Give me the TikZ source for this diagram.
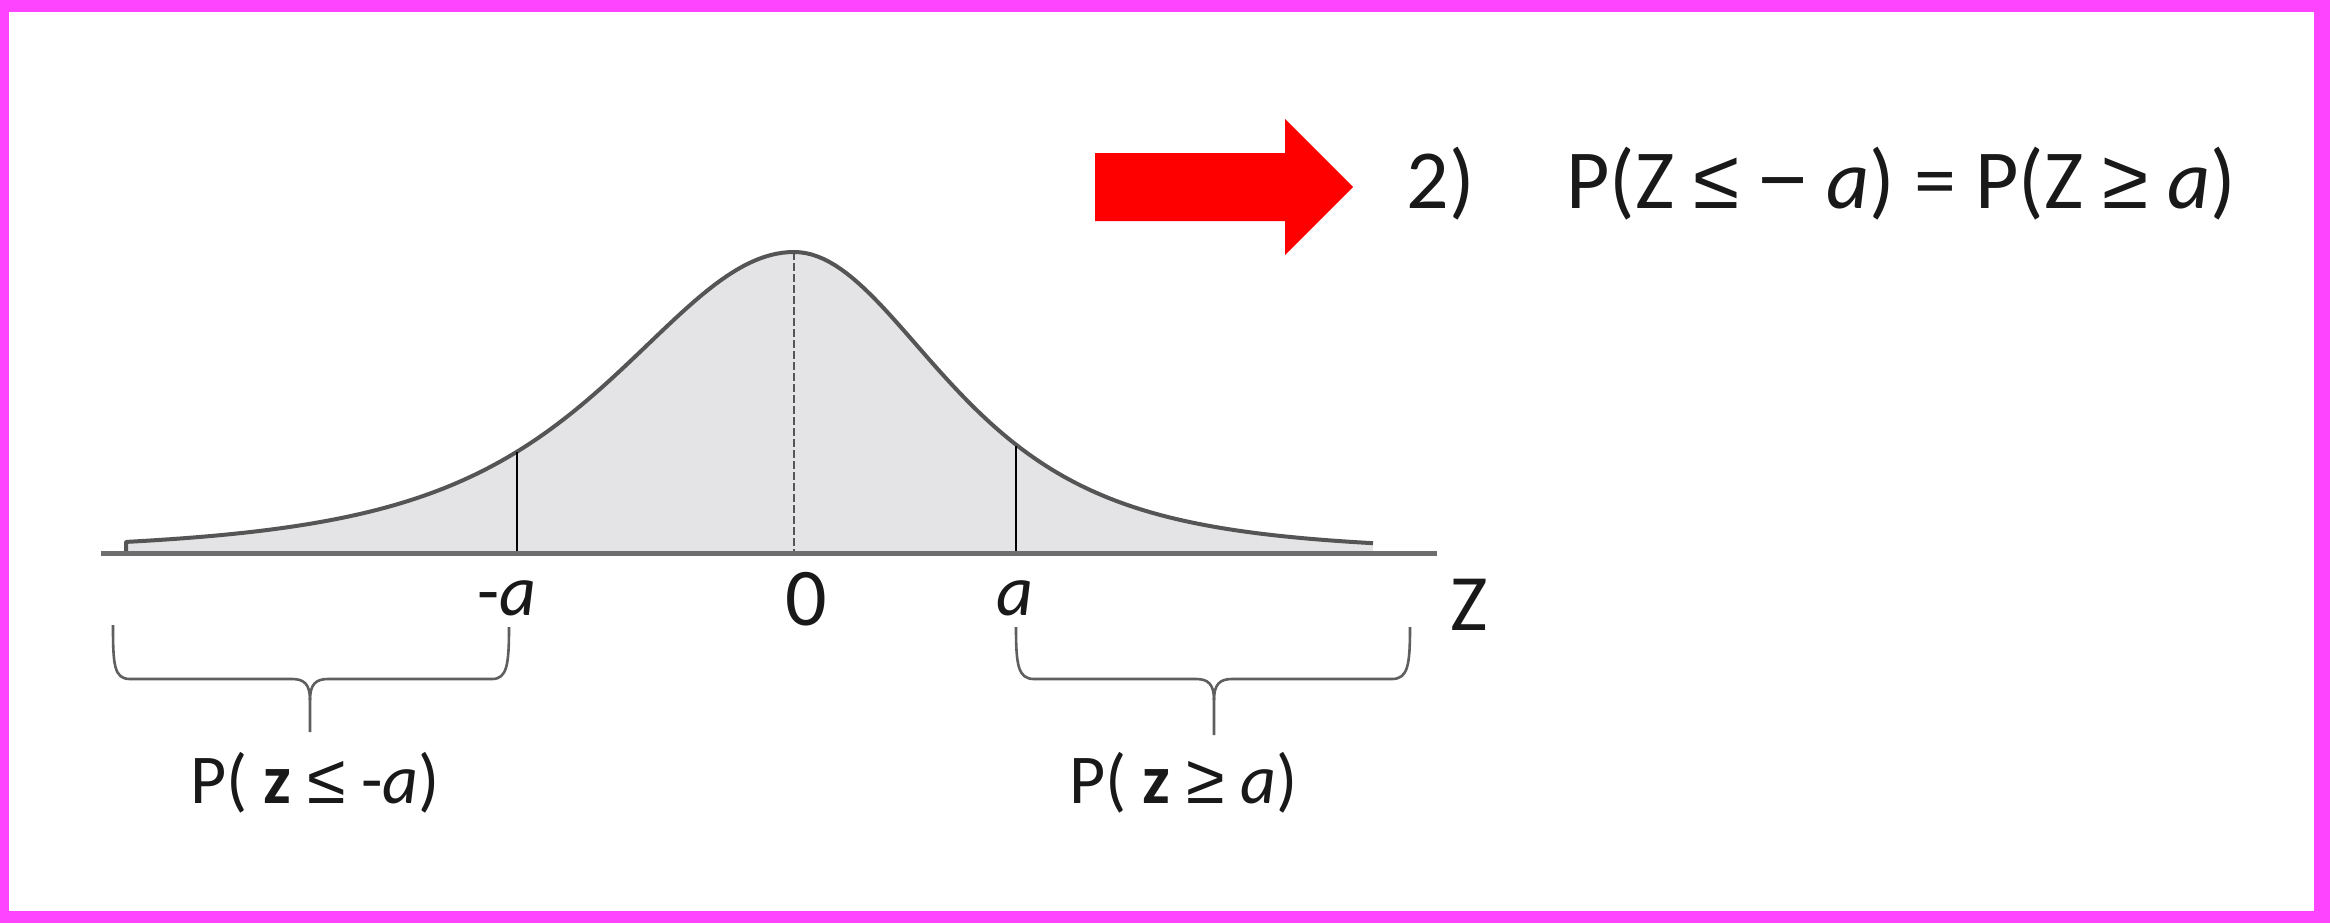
\documentclass[tikz,border=0pt]{standalone}
\usepackage{fontspec}
\setmainfont{Carlito}
\newfontfamily\relfont{Liberation Sans}
\definecolor{magborder}{RGB}{255,68,255}
\definecolor{fillgray}{RGB}{228,228,230}
\definecolor{curvegray}{RGB}{85,85,85}
\definecolor{axisgray}{RGB}{110,110,110}
\definecolor{ink}{RGB}{25,25,25}
\definecolor{bracegray}{RGB}{95,95,95}
\definecolor{arrowred}{RGB}{255,0,0}
\newcommand{\ita}{\textit{a}}
\newcommand{\mle}{{\relfont ≤}}
\newcommand{\mge}{{\relfont ≥}}
\newcommand{\mminus}{{\relfont −}}
\begin{document}
\begin{tikzpicture}[x=0.5pt,y=-0.5pt,
  txt/.style={inner sep=0pt, text=ink},
  formula/.style={txt, font=\fontsize{42}{48}\selectfont},
  axlabel/.style={txt, font=\fontsize{36}{42}\selectfont},
  problabel/.style={txt, font=\fontsize{35}{42}\selectfont},
  curveline/.style={draw=curvegray, line width=2pt, line join=round},
  bracestyle/.style={draw=bracegray, line width=1.3pt},
  cutline/.style={draw=black, line width=1.4pt},
  midline/.style={draw=curvegray, line width=1.2pt, dash pattern=on 4pt off 1.5pt},
  axisline/.style={draw=axisgray, line width=2.5pt}]
% frame
\fill[magborder] (0,0) rectangle (2330,923);
\fill[white] (9,12) rectangle (2314,911);
\useasboundingbox (0,0) rectangle (2330,923);

% curve fill and outline
\fill[fillgray] (126,553) -- plot[domain=126:794, samples=120]
  ({\x},{553-301/((1+((794-\x)/188)*((794-\x)/188)/3)*(1+((794-\x)/188)*((794-\x)/188)/3))})
  -- plot[domain=794:1373, samples=100]
  ({\x},{553-301/((1+((\x-794)/157)*((\x-794)/157)/3)*(1+((\x-794)/157)*((\x-794)/157)/3))})
  -- (1373,553) -- cycle;
\draw[curveline] (126,553) -- plot[domain=126:794, samples=120]
  ({\x},{553-301/((1+((794-\x)/188)*((794-\x)/188)/3)*(1+((794-\x)/188)*((794-\x)/188)/3))})
  -- plot[domain=794:1373, samples=100]
  ({\x},{553-301/((1+((\x-794)/157)*((\x-794)/157)/3)*(1+((\x-794)/157)*((\x-794)/157)/3))});

% coordinates
\coordinate (axL) at (101,553);
\coordinate (axR) at (1437,553);
\coordinate (maTop) at (517,452);
\coordinate (maBot) at (517,553);
\coordinate (aTop) at (1016,446);
\coordinate (aBot) at (1016,553);
\coordinate (peak) at (794,252);
\coordinate (zeroBot) at (794,553);

\draw[midline] (peak) -- (zeroBot);
\draw[cutline] (maBot) -- (maTop);
\draw[cutline] (aBot) -- (aTop);
\draw[axisline] (axL) -- (axR);

% axis labels
\node[axlabel, anchor=base] (lma) at (507,615) {-\ita};
\node[axlabel, anchor=base, font=\fontsize{41}{46}\selectfont] (lzero) at (806,625) {0};
\node[axlabel, anchor=base] (la) at (1015,615) {\ita};
\node[axlabel, anchor=base, font=\fontsize{40}{46}\selectfont] (lZ) at (1469,630) {Z};

% braces
\coordinate (b1tip) at (310,732);
\coordinate (b2tip) at (1214,735);
\draw[bracestyle] (113,625) .. controls (113,665) and (114,679) .. (130,679) -- (292,679)
  .. controls (304,679) and (310,684) .. (310,700) -- (b1tip);
\draw[bracestyle] (509,627) .. controls (509,665) and (507,679) .. (492,679) -- (328,679)
  .. controls (316,679) and (310,684) .. (310,700);
\draw[bracestyle] (1016,627) .. controls (1016,665) and (1018,679) .. (1034,679) -- (1196,679)
  .. controls (1208,679) and (1214,684) .. (1214,700) -- (b2tip);
\draw[bracestyle] (1410,627) .. controls (1410,665) and (1408,679) .. (1392,679) -- (1232,679)
  .. controls (1220,679) and (1214,684) .. (1214,700);

% brace labels
\node[problabel, anchor=base west] (pleft) at (190,803) {P( \textbf{z} \mle{} -\ita)};
\node[problabel, anchor=base west] (pright) at (1069,803) {P( \textbf{z} \mge{} \ita)};

% red arrow
\fill[arrowred] (1095,153) -- (1285,153) -- (1285,119) -- (1353,187) -- (1285,255) -- (1285,221) -- (1095,221) -- cycle;

% formula
\node[formula, anchor=base west] (num) at (1406,208) {2)};
\node[formula, anchor=base west] (eq) at (1566,208) {P(Z \mle{} \mminus{} \ita) = P(Z \mge{} \ita)};
\end{tikzpicture}
\end{document}
